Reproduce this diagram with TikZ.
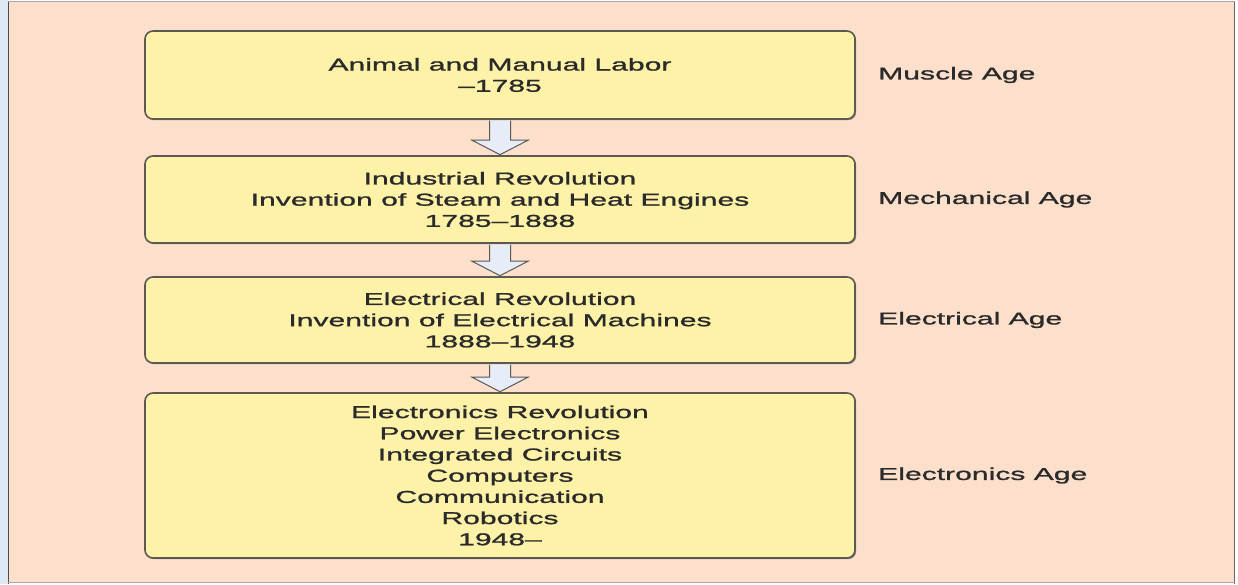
\documentclass[tikz,border=0pt]{standalone}
\usepackage{fontspec}
\setmainfont{Liberation Sans}[FakeStretch=1.75,FakeBold=1.2]
\usetikzlibrary{calc,shadows}
\definecolor{peach}{HTML}{FCE0CC}
\definecolor{boxfill}{HTML}{FDF2A8}
\definecolor{boxline}{HTML}{5E5852}
\definecolor{arrowfill}{HTML}{E6EDF8}
\definecolor{txt}{HTML}{2A2A2A}
\definecolor{strip}{HTML}{DDEAF6}
\tikzset{
  agebox/.style={draw=boxline, fill=boxfill, line width=1.6pt, rounded corners=8pt,
    minimum width=710pt, inner sep=0pt, align=center, text=txt,
    font=\fontsize{17.2}{21.2}\selectfont,
    general shadow={fill=black!45, shadow xshift=1.2pt, shadow yshift=-1.2pt}},
  agelabel/.style={anchor=west, text=txt, inner sep=0pt, font=\fontsize{17.2}{21.2}\selectfont},
  blockarrow/.style={draw=boxline, fill=arrowfill, line width=1pt, line join=miter}
}
\begin{document}
\begin{tikzpicture}[x=1pt,y=-1pt]
\useasboundingbox (0,0) rectangle (1238,584);
\fill[strip] (0,0) rectangle (8,584);
\fill[peach] (8,1) rectangle (1235,583);
\draw[black!70, line width=1.5pt] (8.5,1) -- (8.5,584);
\draw[black!60, line width=1.5pt] (1234.5,1) -- (1234.5,584);
\draw[black!35, line width=1pt] (8,1.5) -- (1235,1.5);
\draw[black!35, line width=1.2pt] (8,582.5) -- (1235,582.5);

\node[agebox, minimum height=88pt] (b1) at (500,75) {Animal and Manual Labor\\--1785};
\node[agebox, minimum height=87pt] (b2) at (500,199.5) {Industrial Revolution\\Invention of Steam and Heat Engines\\1785--1888};
\node[agebox, minimum height=86pt] (b3) at (500,320) {Electrical Revolution\\Invention of Electrical Machines\\1888--1948};
\node[agebox, minimum height=165pt] (b4) at (500,475.5) {Electronics Revolution\\Power Electronics\\Integrated Circuits\\Computers\\Communication\\Robotics\\1948--};

\node[agelabel] (l1) at (878,75) {Muscle Age};
\node[agelabel] (l2) at (878,199.5) {Mechanical Age};
\node[agelabel] (l3) at (878,320) {Electrical Age};
\node[agelabel] (l4) at (878,475.5) {Electronics Age};

\foreach \a/\b in {b1/b2,b2/b3,b3/b4}{
  \draw[blockarrow]
    ($(\a.south)+(-10.5,0.8)$) --
    ($(\b.north)+(-10.5,-15)$) --
    ($(\b.north)+(-28,-15)$) --
    ($(\b.north)+(0,-0.5)$) --
    ($(\b.north)+(28,-15)$) --
    ($(\b.north)+(10.5,-15)$) --
    ($(\a.south)+(10.5,0.8)$);
}
\end{tikzpicture}
\end{document}
